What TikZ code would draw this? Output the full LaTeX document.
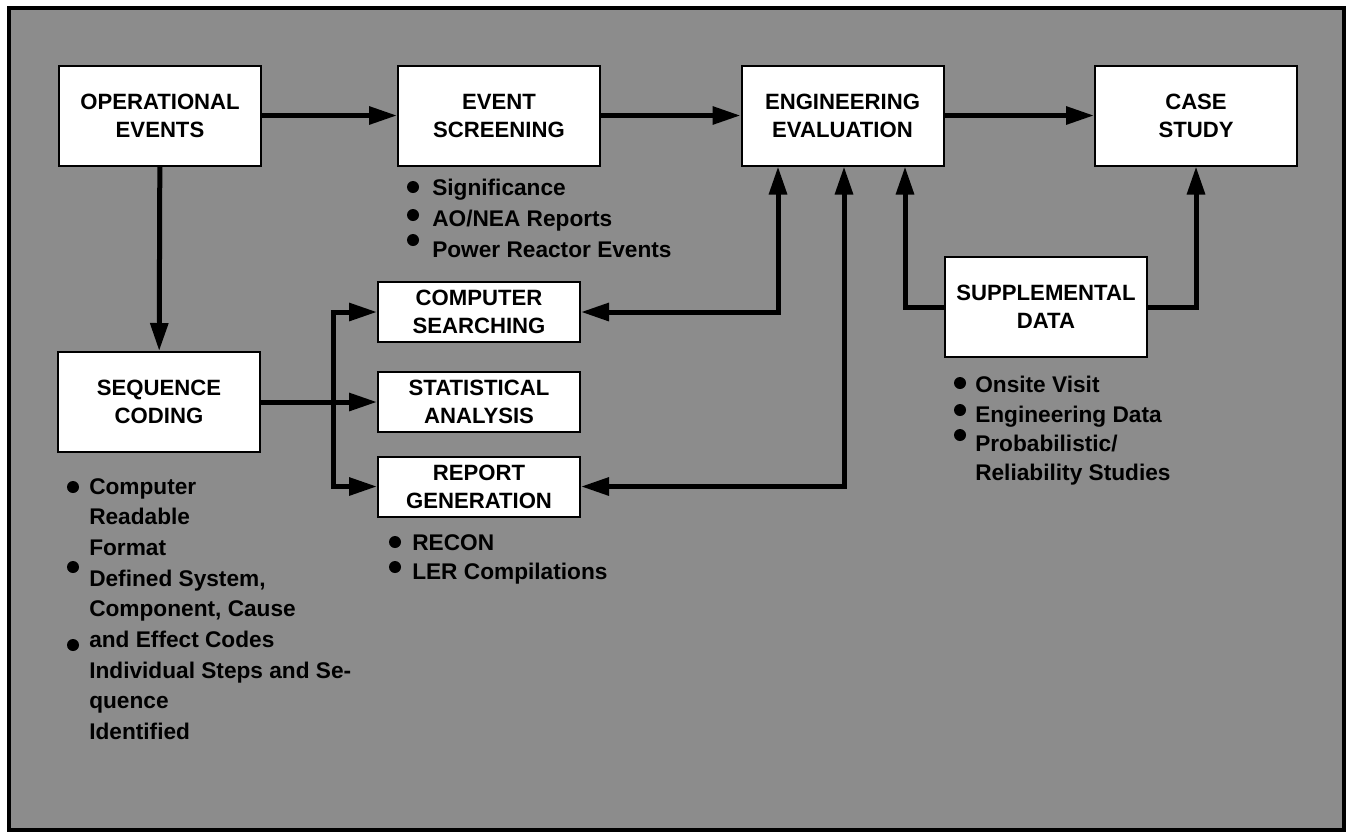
\documentclass[tikz,border=0pt]{standalone}
\usepackage{fontspec}
\setmainfont{Liberation Sans}
\usetikzlibrary{arrows.meta,calc}
\begin{document}
\begin{tikzpicture}[x=0.75pt,y=-0.75pt,
  box/.style={draw=black, line width=1.5pt, fill=white, align=center,
    font=\fontsize{16.6}{21}\selectfont\bfseries, inner sep=0pt},
  bigbox/.style={box, minimum width=151.5pt, minimum height=75pt},
  smallbox/.style={box, minimum width=151.5pt, minimum height=45pt},
  conn/.style={line width=3.75pt, draw=black},
  arr/.style={conn, -{Triangle[length=21pt,width=13pt]}},
  darr/.style={conn, {Triangle[length=21pt,width=13pt]}-{Triangle[length=21pt,width=13pt]}},
  blt/.style={circle, fill=black, inner sep=0pt, minimum size=9pt},
  list/.style={anchor=north west, align=left, inner sep=0pt,
    font=\fontsize{17}{23}\selectfont\bfseries}
]
\useasboundingbox (0,0) rectangle (1352,833);
\fill[black!45] (9,8) rectangle (1344,830);
\draw[line width=3pt] (9,8) rectangle (1344,830);

% boxes
\node[bigbox] (oe) at (160,115.5) {OPERATIONAL\\EVENTS};
\node[bigbox] (es) at (499,115.5) {EVENT\\SCREENING};
\node[bigbox] (ee) at (842.5,115.5) {ENGINEERING\\EVALUATION};
\node[bigbox] (cst) at (1196,115.5) {CASE\\STUDY};
\node[bigbox] (sc) at (159,402) {SEQUENCE\\CODING};
\node[smallbox] (cs) at (479,312) {COMPUTER\\SEARCHING};
\node[smallbox] (st) at (479,402) {STATISTICAL\\ANALYSIS};
\node[smallbox] (rg) at (479,486.5) {REPORT\\GENERATION};
\node[bigbox] (sd) at (1046,307) {SUPPLEMENTAL\\DATA};

% helper coordinates
\coordinate (bus) at (333,402);
\coordinate (e1) at (778,0);
\coordinate (e2) at (844,0);
\coordinate (e3) at (905,0);

% connectors
\draw[arr] (oe) -- (es);
\draw[arr] (es) -- (ee);
\draw[arr] (ee) -- (cst);
\draw[arr] (oe) -- (sc);
\draw[arr] (sc) -- (st);
\draw[arr] (bus) |- (cs.west);
\draw[arr] (bus) |- (rg.west);
\draw[darr] (cs.east) -| (ee.south -| e1);
\draw[darr] (rg.east) -| (ee.south -| e2);
\draw[arr] (sd.west) -| (ee.south -| e3);
\draw[arr] (sd.east) -| (cst.south);

% event screening list
\node[blt] (b1) at (413,187) {};
\node[blt] (b2) at (413,215) {};
\node[blt] (b3) at (413,240) {};
\node[list, font=\fontsize{17}{23.25}\selectfont\bfseries] (esl) at (432,179)
  {Significance\\AO/NEA Reports\\Power Reactor Events};

% sequence coding list
\node[blt] (b4) at (73,487) {};
\node[blt] (b5) at (73,567) {};
\node[blt] (b6) at (73,645) {};
\node[list] (scl) at (89,478)
  {Computer\\Readable\\Format\\Defined System,\\Component, Cause\\and Effect Codes\\Individual Steps and Se-\\quence\\Identified};

% report generation list
\node[blt] (b7) at (395,542) {};
\node[blt] (b8) at (395,567) {};
\node[list, font=\fontsize{17}{22}\selectfont\bfseries] (rgl) at (412,534)
  {RECON\\LER Compilations};

% supplemental data list
\node[blt] (b9) at (960,383) {};
\node[blt] (b10) at (960,410) {};
\node[blt] (b11) at (960,435) {};
\node[list, font=\fontsize{17}{22}\selectfont\bfseries] (sdl) at (975,376)
  {Onsite Visit\\Engineering Data\\Probabilistic/\\Reliability Studies};
\end{tikzpicture}
\end{document}
